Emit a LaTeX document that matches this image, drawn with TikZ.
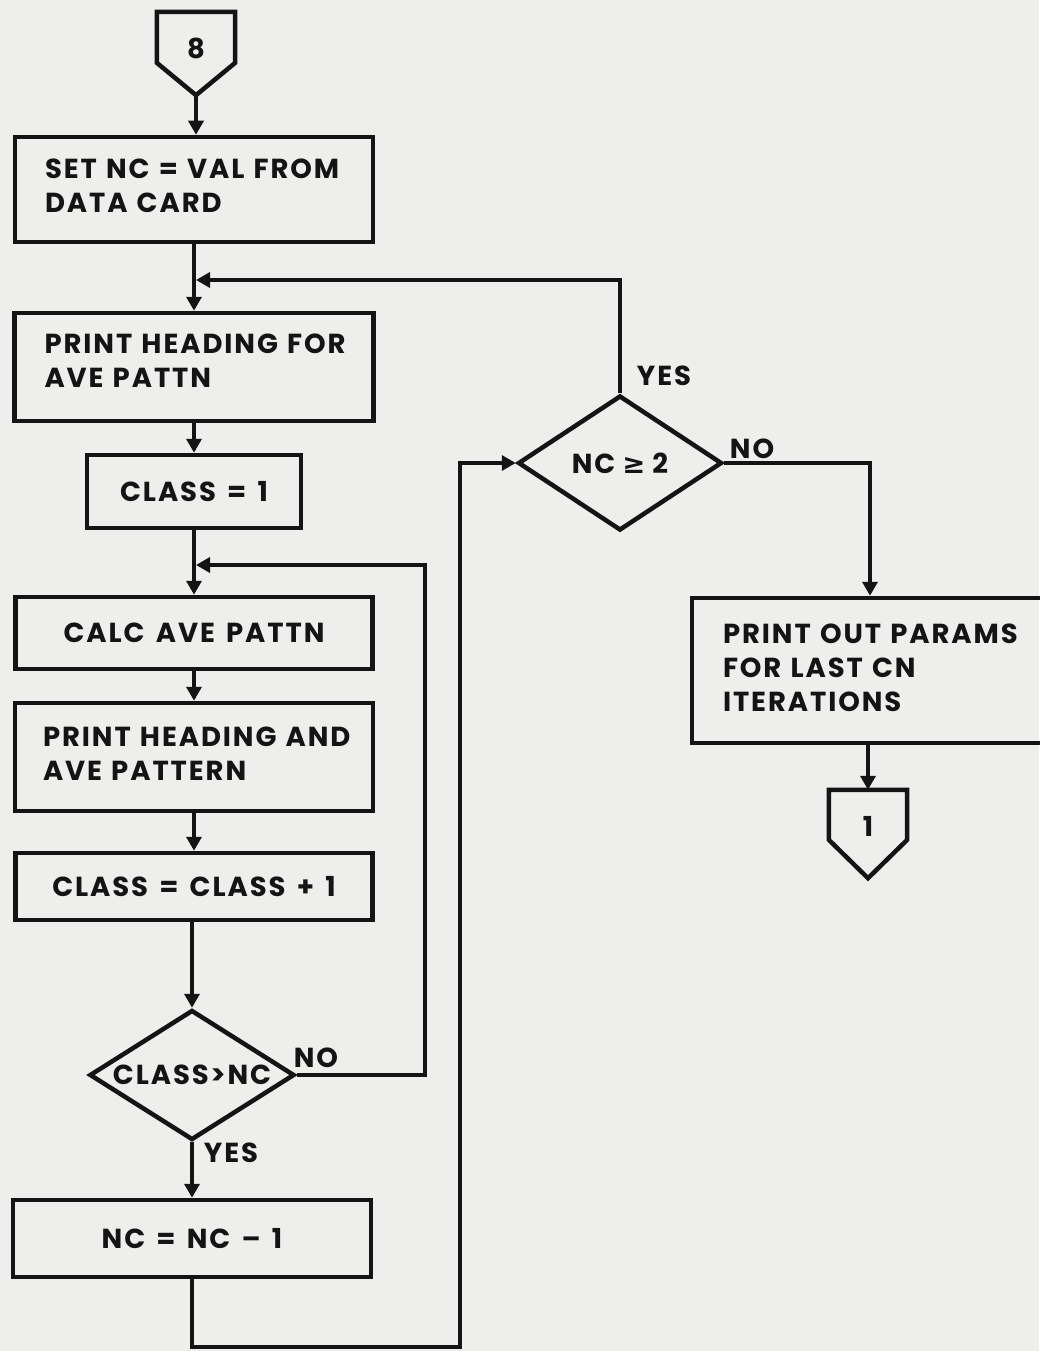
\documentclass[tikz,border=0pt]{standalone}
\usepackage{fontspec}
\setmainfont{Poppins}[LetterSpace=7,WordSpace=1.45]
\newfontfamily\symfont{DejaVu Sans}
\usetikzlibrary{arrows.meta,shapes.geometric,calc}
\definecolor{bg}{RGB}{238,238,236}
\definecolor{ink}{RGB}{20,20,20}
\newcommand\liftline[1]{\rule[-#1]{0pt}{0pt}}
\begin{document}
\begin{tikzpicture}[x=1pt,y=-1pt,
  every node/.style={font=\bfseries\fontsize{27.5}{34}\selectfont, text=ink},
  box/.style={draw=ink, line width=4.5pt, rectangle, inner sep=0pt},
  lbox/.style={box, align=left},
  cbox/.style={box, align=center},
  dec/.style={draw=ink, line width=4.5pt, diamond, inner sep=0pt},
  off/.style={draw=none, rectangle, inner sep=0pt},
  conn/.style={draw=ink, line width=3.5pt},
  arr/.style={conn, -{Triangle[width=15pt,length=14pt]}},
  shp/.style={draw=ink, line width=4.5pt, line join=miter},
  lab/.style={inner sep=0pt}
]
\fill[bg] (0,0) rectangle (1039,1351);
\useasboundingbox (0,0) rectangle (1039,1351);

% off-page connector 8
\node[off, minimum width=78pt, minimum height=83pt] (c8) at (196,53.5) {};
\node[lab] (c8t) at (196,48) {8};
\draw[shp] (c8.north west) -- (c8.north east) -- ($(c8.north east)+(0,51)$) -- (c8.south) -- ($(c8.north west)+(0,51)$) -- cycle;

% boxes
\node[lbox, minimum width=358pt, minimum height=105pt, text width=298pt] (b1) at (194,189.5) {\mbox{SET NC = VAL FROM}\\\mbox{DATA CARD}\liftline{8pt}};
\node[lbox, minimum width=359pt, minimum height=108pt, text width=299pt] (b2) at (194,367) {\mbox{PRINT HEADING FOR}\\\mbox{AVE PATTN}\liftline{12pt}};
\node[cbox, minimum width=214pt, minimum height=73pt] (b3) at (194,491.5) {CLASS = 1};
\node[cbox, minimum width=357pt, minimum height=72pt] (b4) at (194,633) {CALC AVE PATTN};
\node[lbox, minimum width=358pt, minimum height=108pt, text width=302pt] (b5) at (194,757) {\mbox{PRINT HEADING AND}\\\mbox{AVE PATTERN}\liftline{7pt}};
\node[cbox, minimum width=357pt, minimum height=67pt] (b6) at (194,886.5) {CLASS = CLASS + 1};
\node[dec, minimum width=205pt, minimum height=130pt, aspect=1.58] (d1) at (192,1075) {CLASS>NC};
\node[cbox, minimum width=358pt, minimum height=77pt] (b7) at (192,1238.5) {NC = NC – 1};

\node[dec, minimum width=204pt, minimum height=135pt, aspect=1.51] (d2) at (620,463) {NC\hspace{7pt}{\symfont\bfseries ≥}\hspace{7pt}2};
\node[lbox, minimum width=356pt, minimum height=145pt, text width=294pt] (b8) at (870,670.5) {\mbox{PRINT OUT PARAMS}\\\mbox{FOR LAST CN}\\\mbox{ITERATIONS}\liftline{5pt}};

% off-page connector 1
\node[off, minimum width=78pt, minimum height=88pt] (c1) at (868,834) {};
\node[lab] (c1t) at (868,826) {1};
\draw[shp] (c1.north west) -- (c1.north east) -- ($(c1.north east)+(0,50)$) -- (c1.south) -- ($(c1.north west)+(0,50)$) -- cycle;

% junctions and bends
\coordinate (j1) at (196,280);
\coordinate (j2) at (196,565);
\coordinate (loopR) at (425,565);
\coordinate (loopB) at (460,1347);

% connectors
\draw[arr] (c8.south) -- (c8.south |- b1.north);
\draw[arr] (b1.south) -- (b2.north);
\draw[arr] (b2.south) -- (b3.north);
\draw[arr] (b3.south) -- (b4.north);
\draw[arr] (b4.south) -- (b5.north);
\draw[arr] (b5.south) -- (b6.north);
\draw[arr] (b6.south -| d1.north) -- (d1.north);
\draw[arr] (d1.south) -- (b7.north);
\draw[arr] (d1.east) -| (loopR) -- (j2);
\draw[arr] (b7.south) |- (loopB) |- (d2.west);
\draw[arr] (d2.north) |- (j1);
\draw[arr] (d2.east) -| (b8.north);
\draw[arr] (b8.south -| c1.north) -- (c1.north);

% labels
\node[lab] (yes2) at (664,376) {YES};
\node[lab] (no2) at (752,449) {NO};
\node[lab] (no1) at (316,1058) {NO};
\node[lab] (yes1) at (231,1153) {YES};
\end{tikzpicture}
\end{document}
